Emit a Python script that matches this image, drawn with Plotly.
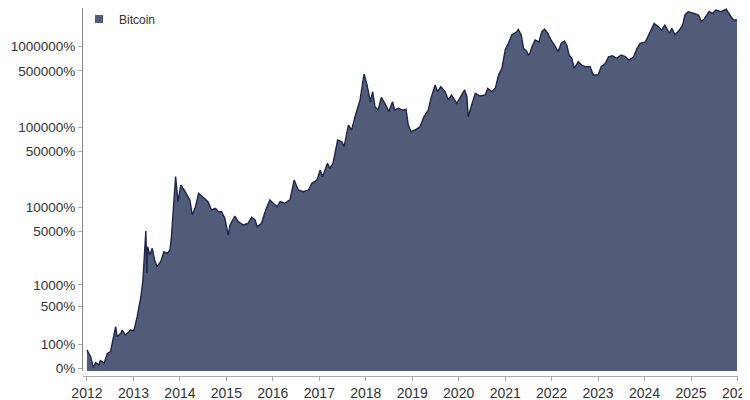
import plotly.graph_objects as go

# Bitcoin cumulative gain (%)
dates = [
    "2012-01-01", "2012-01-30", "2012-02-21", "2012-03-09", "2012-04-04", "2012-04-15",
    "2012-05-15", "2012-06-09", "2012-07-04", "2012-07-30", "2012-08-14", "2012-08-25",
    "2012-09-23", "2012-10-04", "2012-10-30", "2012-12-09", "2013-01-04", "2013-01-30",
    "2013-02-28", "2013-03-16", "2013-04-08", "2013-04-16", "2013-04-22", "2013-05-10",
    "2013-05-28", "2013-06-16", "2013-07-04", "2013-08-03", "2013-08-28", "2013-09-23",
    "2013-10-15", "2013-10-26", "2013-11-10", "2013-11-28", "2013-12-17", "2014-01-08",
    "2014-02-03", "2014-02-28", "2014-03-20", "2014-04-08", "2014-05-03", "2014-05-28",
    "2014-07-01", "2014-08-10", "2014-09-06", "2014-10-08", "2014-10-30", "2014-11-25",
    "2014-12-20", "2015-01-15", "2015-01-30", "2015-03-09", "2015-04-04", "2015-05-15",
    "2015-06-20", "2015-07-19", "2015-08-14", "2015-09-01", "2015-10-04", "2015-11-06",
    "2015-12-09", "2016-01-04", "2016-02-03", "2016-02-28", "2016-04-04", "2016-05-15",
    "2016-06-17", "2016-07-19", "2016-08-28", "2016-10-08", "2016-11-03", "2016-12-13",
    "2017-01-08", "2017-01-26", "2017-03-06", "2017-03-24", "2017-04-18", "2017-05-25",
    "2017-06-27", "2017-07-15", "2017-08-17", "2017-09-12", "2017-10-08", "2017-11-17",
    "2017-12-18", "2018-01-08", "2018-02-06", "2018-02-24", "2018-03-14", "2018-04-08",
    "2018-05-03", "2018-06-06", "2018-07-01", "2018-07-30", "2018-08-17", "2018-09-12",
    "2018-10-22", "2018-11-13", "2018-12-01", "2018-12-23", "2019-01-22", "2019-03-03",
    "2019-04-04", "2019-05-07", "2019-05-28", "2019-06-30", "2019-07-19", "2019-08-14",
    "2019-09-16", "2019-10-12", "2019-11-06", "2019-12-17", "2020-01-26", "2020-02-17",
    "2020-03-06", "2020-03-16", "2020-04-08", "2020-05-11", "2020-06-17", "2020-07-27",
    "2020-08-17", "2020-09-20", "2020-10-15", "2020-11-10", "2020-12-06", "2021-01-01",
    "2021-01-26", "2021-02-21", "2021-04-01", "2021-04-14", "2021-05-07", "2021-05-25",
    "2021-06-20", "2021-07-01", "2021-07-15", "2021-07-30", "2021-08-24", "2021-09-23",
    "2021-10-15", "2021-11-06", "2021-12-02", "2021-12-28", "2022-01-30", "2022-02-21",
    "2022-03-17", "2022-04-11", "2022-04-30", "2022-05-18", "2022-06-09", "2022-06-27",
    "2022-07-30", "2022-08-24", "2022-09-20", "2022-10-30", "2022-11-25", "2023-01-01",
    "2023-01-26", "2023-02-28", "2023-03-24", "2023-04-22", "2023-05-28", "2023-07-01",
    "2023-08-03", "2023-09-02", "2023-10-08", "2023-11-03", "2023-11-28", "2024-01-08",
    "2024-02-03", "2024-02-28", "2024-03-17", "2024-04-18", "2024-05-15", "2024-06-09",
    "2024-07-15", "2024-08-03", "2024-08-28", "2024-10-01", "2024-10-27", "2024-11-14",
    "2024-12-09", "2025-01-19", "2025-02-28", "2025-03-24", "2025-04-18", "2025-05-22",
    "2025-06-20", "2025-07-15", "2025-08-24", "2025-10-04", "2025-10-30", "2025-11-28",
    "2025-12-28",
]

gain_pct = [
    71, 41, 3, 19, 11, 26,
    17, 55, 63, 175, 232, 150,
    175, 202, 162, 202, 196, 343,
    684, 1165, 5040, 1430, 3180, 2480,
    3030, 2140, 1750, 2030, 2740, 2610,
    2890, 4260, 9260, 24200, 11800, 19000,
    16500, 14300, 12400, 8000, 10200, 15000,
    13600, 11800, 9260, 9700, 8800, 8800,
    7280, 4480, 6000, 7790, 6600, 6000,
    6300, 7490, 6930, 5700, 6300, 9260,
    12400, 11250, 10200, 11800, 11250, 12400,
    22000, 16500, 15700, 16500, 20000, 22000,
    29300, 24200, 35500, 30700, 35500, 69200,
    66000, 57200, 106000, 92200, 135000, 218000,
    458000, 351000, 207000, 276000, 180000, 163000,
    235000, 189000, 156000, 207000, 163000, 172000,
    163000, 167000, 106000, 87800, 92200, 101000,
    135000, 163000, 228000, 334000, 276000, 318000,
    276000, 218000, 251000, 198000, 251000, 290000,
    239000, 135000, 180000, 264000, 244000, 251000,
    304000, 276000, 304000, 445000, 538000, 910000,
    1100000, 1400000, 1530000, 1640000, 1400000, 955000,
    867000, 789000, 828000, 1000000, 1210000, 1150000,
    1530000, 1660000, 1470000, 1210000, 1000000, 867000,
    1100000, 1180000, 1050000, 789000, 718000, 538000,
    651000, 592000, 565000, 565000, 445000, 445000,
    565000, 622000, 751000, 773000, 718000, 789000,
    751000, 683000, 751000, 955000, 1100000, 1150000,
    1400000, 1690000, 1950000, 1770000, 1610000, 1860000,
    1470000, 1690000, 1400000, 1610000, 1860000, 2480000,
    2720000, 2610000, 2480000, 2050000, 2250000, 2720000,
    2600000, 2860000, 2720000, 2920000, 2480000, 2150000,
    2150000,
]

tick_pct = [0, 100, 500, 1000, 5000, 10000, 50000, 100000, 500000, 1000000]
tick_labels = [f"{p}%" for p in tick_pct]
year_ticks = [f"{y}-01-01" for y in range(2012, 2027)]
year_labels = [str(y) for y in range(2012, 2027)]

# log axis of growth multiple (1 + gain/100)
y_vals = [1 + p / 100 for p in gain_pct]
tick_vals = [1 + p / 100 for p in tick_pct]

FILL = "rgb(82,92,121)"
LINE = "rgb(28,38,78)"
FONT = "Liberation Sans, Arial, sans-serif"

fig = go.Figure()
fig.add_trace(go.Scatter(
    x=dates, y=y_vals, mode="lines", fill="tozeroy",
    line=dict(color=LINE, width=1.4), fillcolor=FILL,
    showlegend=False, hoverinfo="skip",
))
fig.add_trace(go.Scatter(
    x=[None], y=[None], mode="markers", name="Bitcoin",
    marker=dict(symbol="square", size=8, color=FILL),
    showlegend=True,
))

# the page body has an 8px margin, so the figure is sized 742x392
fig.update_layout(
    width=742, height=392,
    margin=dict(l=75, r=12, t=0, b=24, autoexpand=False),
    paper_bgcolor="white", plot_bgcolor="white",
    font=dict(family=FONT, color="#333333"),
    legend=dict(x=-0.0061, y=1.0095, xanchor="left", yanchor="top",
                bgcolor="rgba(0,0,0,0)", font=dict(size=12, color="#333333"),
                itemwidth=30),
    xaxis=dict(
        type="date", range=["2011-12-01", "2026-01-05"],
        tickvals=year_ticks, ticktext=year_labels,
        showgrid=False, zeroline=False,
        showline=True, linecolor="#aaaaaa", linewidth=1,
        ticks="outside", ticklen=4, tickcolor="#aaaaaa",
        tickfont=dict(size=14, color="#333333"),
        anchor="free", position=0, automargin=False,
        ticklabeloverflow="allow",
    ),
    yaxis=dict(
        type="log", range=[-0.0286, 4.481], domain=[0.0136, 1],
        tickvals=tick_vals, ticktext=tick_labels,
        showgrid=False, zeroline=False,
        showline=True, linecolor="#888888", linewidth=1,
        ticks="outside", ticklen=4, tickcolor="#aaaaaa",
        tickfont=dict(size=13.5, color="#333333"),
        automargin=False,
    ),
)

fig.write_html("out.html")
